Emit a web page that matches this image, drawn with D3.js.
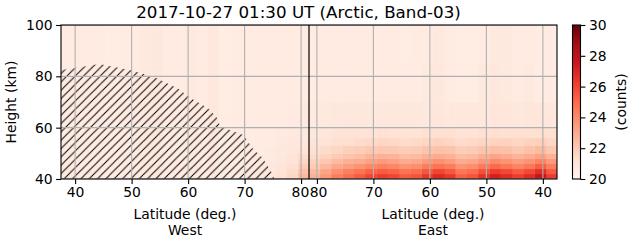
<!DOCTYPE html>
<html>
<head>
<meta charset="utf-8">
<script src="https://cdn.jsdelivr.net/npm/d3@7"></script>
<style>
  html, body { margin: 0; padding: 0; background: #fff; }
  svg { display: block; }
  text { font-family: "DejaVu Sans", sans-serif; fill: #000; }
</style>
</head>
<body>
<svg id="chart" width="631" height="243"></svg>
<script>
// ---------------- DATA ----------------
const titleText = "2017-10-27 01:30 UT (Arctic, Band-03)";
const maxLat = 81.4;          // turning latitude (divider)
const minLat = 37.5;
// latitude bin edges (ascending), used by both halves
const latEdges = [37.5, 39.5, 41.5, 43.5, 45.5, 47.5, 49.5, 51.5, 53.5, 55.5, 57.5,
                  59.5, 61.5, 63.5, 65.5, 67.5, 69.5, 71.5, 73.5, 75.5, 77.5, 79.5, 81.4];
// height bin edges (km)
const heightEdges = [40, 42, 44, 46, 48, 50, 53, 56, 60, 70, 85, 100];

// counts, one array per latitude bin (ascending lat), values bottom -> top
const westCounts = [
  [20.7, 20.7, 20.7, 20.6, 20.6, 20.6, 20.6, 20.6, 20.6, 20.6, 20.6],
  [20.6, 20.6, 20.6, 20.6, 20.6, 20.6, 20.6, 20.6, 20.6, 20.6, 20.6],
  [20.7, 20.7, 20.6, 20.6, 20.6, 20.6, 20.6, 20.6, 20.6, 20.6, 20.6],
  [20.6, 20.6, 20.6, 20.6, 20.6, 20.6, 20.6, 20.6, 20.6, 20.6, 20.6],
  [20.5, 20.5, 20.5, 20.5, 20.5, 20.5, 20.5, 20.5, 20.5, 20.5, 20.5],
  [20.6, 20.6, 20.6, 20.6, 20.6, 20.6, 20.6, 20.6, 20.6, 20.6, 20.6],
  [20.6, 20.6, 20.6, 20.6, 20.6, 20.6, 20.6, 20.6, 20.6, 20.6, 20.6],
  [20.7, 20.7, 20.7, 20.7, 20.7, 20.7, 20.7, 20.7, 20.7, 20.7, 20.7],
  [20.8, 20.8, 20.8, 20.8, 20.8, 20.8, 20.8, 20.8, 20.8, 20.8, 20.8],
  [20.6, 20.6, 20.6, 20.6, 20.6, 20.6, 20.6, 20.6, 20.6, 20.6, 20.6],
  [20.6, 20.6, 20.6, 20.6, 20.6, 20.6, 20.6, 20.6, 20.6, 20.6, 20.6],
  [20.7, 20.7, 20.7, 20.7, 20.7, 20.7, 20.7, 20.7, 20.7, 20.7, 20.7],
  [20.6, 20.6, 20.6, 20.6, 20.6, 20.6, 20.6, 20.6, 20.6, 20.6, 20.6],
  [20.8, 20.8, 20.8, 20.8, 20.8, 20.8, 20.8, 20.8, 20.8, 20.8, 20.8],
  [20.5, 20.5, 20.5, 20.5, 20.5, 20.5, 20.5, 20.5, 20.5, 20.5, 20.5],
  [20.6, 20.6, 20.6, 20.6, 20.6, 20.6, 20.6, 20.6, 20.6, 20.6, 20.6],
  [20.7, 20.7, 20.6, 20.6, 20.6, 20.6, 20.6, 20.6, 20.6, 20.6, 20.6],
  [20.8, 20.8, 20.7, 20.7, 20.7, 20.6, 20.6, 20.6, 20.6, 20.6, 20.6],
  [20.9, 20.8, 20.8, 20.7, 20.7, 20.7, 20.6, 20.6, 20.6, 20.6, 20.6],
  [21.2, 21.1, 21.0, 20.9, 20.85, 20.8, 20.7, 20.65, 20.6, 20.6, 20.6],
  [21.6, 21.45, 21.25, 21.1, 21.0, 20.9, 20.8, 20.7, 20.65, 20.6, 20.6],
  [22.6, 22.3, 21.9, 21.6, 21.4, 21.1, 20.9, 20.8, 20.7, 20.6, 20.6]
];
const eastCounts = [
  [26.3, 25.4, 24.3, 23.5, 22.8, 22.1, 21.6, 21.2, 20.8, 20.6, 20.6],
  [27.8, 26.7, 25.3, 24.2, 23.3, 22.5, 21.8, 21.3, 20.9, 20.5, 20.5],
  [26.8, 25.9, 24.6, 23.7, 23.0, 22.3, 21.7, 21.2, 20.9, 20.7, 20.6],
  [26.2, 25.4, 24.2, 23.4, 22.7, 22.1, 21.6, 21.2, 20.8, 20.6, 20.6],
  [26.8, 25.9, 24.6, 23.7, 23.0, 22.3, 21.7, 21.2, 20.9, 20.7, 20.7],
  [27.3, 26.3, 25.0, 24.0, 23.2, 22.4, 21.7, 21.3, 20.9, 20.8, 20.7],
  [26.6, 25.7, 24.5, 23.6, 22.9, 22.2, 21.6, 21.2, 20.8, 20.7, 20.6],
  [25.6, 24.9, 23.9, 23.1, 22.5, 22.0, 21.5, 21.1, 20.8, 20.5, 20.5],
  [25.3, 24.6, 23.7, 23.0, 22.4, 21.9, 21.4, 21.1, 20.8, 20.5, 20.5],
  [26.4, 25.5, 24.4, 23.5, 22.8, 22.2, 21.6, 21.2, 20.8, 20.6, 20.6],
  [26.9, 26.0, 24.7, 23.8, 23.0, 22.3, 21.7, 21.2, 20.9, 20.8, 20.7],
  [26.4, 25.5, 24.4, 23.5, 22.8, 22.2, 21.6, 21.2, 20.8, 20.7, 20.6],
  [25.6, 24.9, 23.9, 23.1, 22.5, 22.0, 21.5, 21.1, 20.8, 20.6, 20.6],
  [25.4, 24.7, 23.7, 23.0, 22.4, 21.9, 21.4, 21.1, 20.8, 20.6, 20.5],
  [26.0, 25.2, 24.1, 23.3, 22.7, 22.1, 21.5, 21.1, 20.8, 20.6, 20.6],
  [26.3, 25.4, 24.3, 23.5, 22.8, 22.1, 21.6, 21.2, 20.8, 20.6, 20.6],
  [26.0, 25.2, 24.1, 23.3, 22.7, 22.1, 21.5, 21.1, 20.8, 20.6, 20.6],
  [25.4, 24.7, 23.7, 23.0, 22.4, 21.9, 21.4, 21.1, 20.8, 20.6, 20.6],
  [24.9, 24.3, 23.4, 22.8, 22.2, 21.8, 21.3, 21.0, 20.8, 20.6, 20.6],
  [24.4, 23.8, 23.1, 22.5, 22.0, 21.6, 21.3, 21.0, 20.8, 20.6, 20.6],
  [23.6, 23.2, 22.6, 22.1, 21.7, 21.4, 21.1, 20.9, 20.7, 20.6, 20.6],
  [22.8, 22.5, 22.0, 21.7, 21.4, 21.2, 21.0, 20.8, 20.7, 20.6, 20.6]
];

// hatched (no-data) region on the West side: upper boundary
const maskLat = [37.5, 40, 44.3, 49.7, 54.1, 58.2, 60.6, 63.5, 65, 65.6, 67.5, 69.8, 71.4, 73.2, 74.7, 75.3];
const maskTop = [82.5, 83.2, 84.8, 82.5, 79.6, 75.3, 71.4, 67.7, 64.3, 61, 59, 57.1, 52, 48.2, 42.8, 40];

const westTicks = [40, 50, 60, 70, 80];
const eastTicks = [80, 70, 60, 50, 40];
const yTicks = [40, 60, 80, 100];
const cbTicks = [20, 22, 24, 26, 28, 30];
const colorDomain = [20, 30];
const redsColors = ["#fff5f0", "#fee0d2", "#fcbba1", "#fc9272", "#fb6a4a",
                    "#ef3b2c", "#cb181d", "#a50f15", "#67000d"];

// ---------------- LAYOUT ----------------
const svg = d3.select("#chart");
const L = 61, R = 557, T = 25, B = 179;
const span = 2 * (maxLat - minLat);
const x = d3.scaleLinear().domain([0, span]).range([L, R]);
const westD = lat => lat - minLat;
const eastD = lat => (maxLat - minLat) + (maxLat - lat);
const y = d3.scaleLinear().domain([40, 100]).range([B, T]);
const color = d3.scaleLinear()
  .domain(d3.range(9).map(i => colorDomain[0] + i * (colorDomain[1] - colorDomain[0]) / 8))
  .range(redsColors).clamp(true);

const defs = svg.append("defs");
defs.append("clipPath").attr("id", "plotclip")
  .append("rect").attr("x", L).attr("y", T).attr("width", R - L).attr("height", B - T);

// hatch pattern (matplotlib '//' style)
const hs = 100 / 12;
const pat = defs.append("pattern").attr("id", "hatch")
  .attr("patternUnits", "userSpaceOnUse")
  .attr("width", hs).attr("height", hs)
  .attr("patternTransform", "translate(1.3,0)");
[[-hs, hs, 0, 0], [0, 2 * hs, 2 * hs, 0], [0, hs, hs, 0]].forEach(s => {
  pat.append("line").attr("x1", s[0]).attr("y1", s[1]).attr("x2", s[2]).attr("y2", s[3])
    .attr("stroke", "#000").attr("stroke-width", 1.0);
});

const plot = svg.append("g").attr("clip-path", "url(#plotclip)");

// cells
function cells(counts, dfun) {
  const out = [];
  counts.forEach((col, ci) => {
    col.forEach((v, ri) => {
      const d0 = dfun(latEdges[ci]), d1 = dfun(latEdges[ci + 1]);
      out.push({ x0: Math.min(x(d0), x(d1)), x1: Math.max(x(d0), x(d1)),
                 y0: y(heightEdges[ri + 1]), y1: y(heightEdges[ri]), v });
    });
  });
  return out;
}
const allCells = cells(westCounts, westD).concat(cells(eastCounts, eastD));
plot.selectAll("rect.cell").data(allCells).join("rect")
  .attr("class", "cell")
  .attr("x", d => d.x0).attr("y", d => d.y0)
  .attr("width", d => d.x1 - d.x0 + 0.4).attr("height", d => d.y1 - d.y0 + 0.4)
  .attr("fill", d => color(d.v));

// hatched mask
const maskPts = maskLat.map((lat, i) => [x(westD(lat)), y(maskTop[i])]);
maskPts.push([x(westD(maskLat[maskLat.length - 1])), y(40)]);
maskPts.push([x(westD(minLat)), y(40)]);
plot.append("path")
  .attr("d", d3.line()(maskPts) + "Z")
  .attr("fill", "url(#hatch)").attr("stroke", "none");

// grid
const gridX = westTicks.map(westD).concat(eastTicks.map(eastD));
plot.selectAll("line.gx").data(gridX).join("line")
  .attr("x1", d => x(d)).attr("x2", d => x(d)).attr("y1", T).attr("y2", B)
  .attr("stroke", "#b0b0b0").attr("stroke-width", 1.1);
plot.selectAll("line.gy").data(yTicks).join("line")
  .attr("x1", L).attr("x2", R).attr("y1", d => y(d)).attr("y2", d => y(d))
  .attr("stroke", "#b0b0b0").attr("stroke-width", 1.1);

// divider
plot.append("line")
  .attr("x1", x(maxLat - minLat)).attr("x2", x(maxLat - minLat))
  .attr("y1", T).attr("y2", B).attr("stroke", "#000").attr("stroke-width", 1.2);

// frame
svg.append("rect").attr("x", L).attr("y", T).attr("width", R - L).attr("height", B - T)
  .attr("fill", "none").attr("stroke", "#000").attr("stroke-width", 1.1);

// axes
const tickLabels = westTicks.concat(eastTicks);
const xAxis = d3.axisBottom(x).tickValues(gridX)
  .tickFormat((d, i) => String(tickLabels[i])).tickSize(4.9).tickPadding(3.5);
const gx = svg.append("g").attr("transform", `translate(0,${B})`).call(xAxis);
const yAxis = d3.axisLeft(y).tickValues(yTicks).tickSize(4.9).tickPadding(3.5);
const gy = svg.append("g").attr("transform", `translate(${L},0)`).call(yAxis);
[gx, gy].forEach(g => {
  g.select(".domain").remove();
  g.selectAll(".tick line").attr("stroke", "#000").attr("stroke-width", 1.1);
  g.selectAll(".tick text").attr("font-size", "13.9px")
    .attr("font-family", "DejaVu Sans, sans-serif").attr("fill", "#000");
});
// the two "80" labels meet at the divider: nudge them apart slightly
gx.selectAll(".tick text")
  .attr("dx", (d, i) => i === westTicks.length - 1 ? -1.2 : (i === westTicks.length ? 1.2 : 0));

// titles
svg.append("text").attr("x", 298.5).attr("y", 18)
  .attr("text-anchor", "middle").attr("font-size", "16.7px").text(titleText);

const halfW = x(maxLat - minLat);
[["West", (L + halfW) / 2], ["East", (halfW + R) / 2]].forEach(([name, cx]) => {
  svg.append("text").attr("x", cx).attr("y", 218.5).attr("text-anchor", "middle")
    .attr("font-size", "13.9px").text("Latitude (deg.)");
  svg.append("text").attr("x", cx).attr("y", 234.5).attr("text-anchor", "middle")
    .attr("font-size", "13.9px").text(name);
});
svg.append("text").attr("transform", `translate(16,${(T + B) / 2}) rotate(-90)`)
  .attr("text-anchor", "middle").attr("font-size", "13.9px").text("Height (km)");

// colorbar
const cbX = 572.5, cbW = 8;
const cy = d3.scaleLinear().domain(colorDomain).range([B, T]);
const grad = defs.append("linearGradient").attr("id", "cbgrad")
  .attr("x1", 0).attr("y1", 1).attr("x2", 0).attr("y2", 0);
redsColors.forEach((c, i) => grad.append("stop")
  .attr("offset", i / (redsColors.length - 1)).attr("stop-color", c));
svg.append("rect").attr("x", cbX).attr("y", T).attr("width", cbW).attr("height", B - T)
  .attr("fill", "url(#cbgrad)").attr("stroke", "#000").attr("stroke-width", 1.1);
const cbAxis = d3.axisRight(cy).tickValues(cbTicks).tickSize(4.9).tickPadding(3.5);
const gc = svg.append("g").attr("transform", `translate(${cbX + cbW},0)`).call(cbAxis);
gc.select(".domain").remove();
gc.selectAll(".tick line").attr("stroke", "#000").attr("stroke-width", 1.1);
gc.selectAll(".tick text").attr("font-size", "13.9px")
  .attr("font-family", "DejaVu Sans, sans-serif").attr("fill", "#000");
svg.append("text").attr("transform", `translate(626,${(T + B) / 2}) rotate(-90)`)
  .attr("text-anchor", "middle").attr("font-size", "13.9px").text("(counts)");
</script>
</body>
</html>
